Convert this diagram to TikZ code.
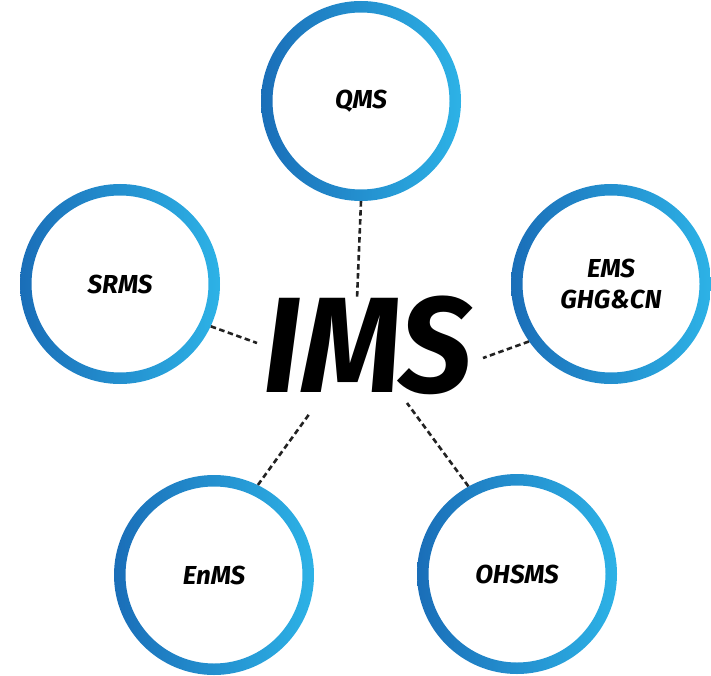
\documentclass[tikz,border=0pt]{standalone}
\usepackage{fontspec}
\setmainfont{Fira Sans}
\usepackage{tikz}
\usetikzlibrary{positioning,calc}
\definecolor{ringdark}{RGB}{26,110,184}
\definecolor{ringlight}{RGB}{45,178,230}
\definecolor{linkgray}{RGB}{34,34,34}

\begin{document}
\begin{tikzpicture}[x=1pt,y=-1pt,
  sysnode/.style={circle, minimum size=200pt, inner sep=0pt, align=center,
    font=\fontsize{26}{31}\selectfont\bfseries\itshape,
    path picture={\shade[left color=ringdark, right color=ringlight, even odd rule]
      (path picture bounding box.center) circle (100pt) circle (88.5pt);}},
  link/.style={linkgray, line width=2.6pt, dash pattern=on 5.5pt off 3.5pt}]
  \useasboundingbox (0,0) rectangle (711,676);

  % systems round the core
  \node[sysnode] (qms)   at (361,101) {QMS};
  \node[sysnode] (srms)  at (120,284) {SRMS};
  \node[sysnode] (ems)   at (611,284) {EMS\\GHG\&CN};
  \node[sysnode] (enms)  at (214,575) {EnMS};
  \node[sysnode] (ohsms) at (517,574) {OHSMS};

  % core
  \node[inner sep=0pt, font=\fontsize{136}{136}\selectfont\bfseries\itshape] (ims) at (368,345)
    {\scalebox{0.95}[1]{IMS}};

  \coordinate (q-end)  at (357,299);
  \coordinate (s-end)  at (257,343);
  \coordinate (e-end)  at (483,358);
  \coordinate (en-end) at (310,413);
  \coordinate (oh-end) at (407,403);

  \draw[link] (qms.270)   -- (q-end);
  \draw[link] (srms.-25)  -- (s-end);
  \draw[link] (ems.215)   -- (e-end);
  \draw[link] (enms.64)   -- (en-end);
  \draw[link] (ohsms.119) -- (oh-end);
\end{tikzpicture}
\end{document}
